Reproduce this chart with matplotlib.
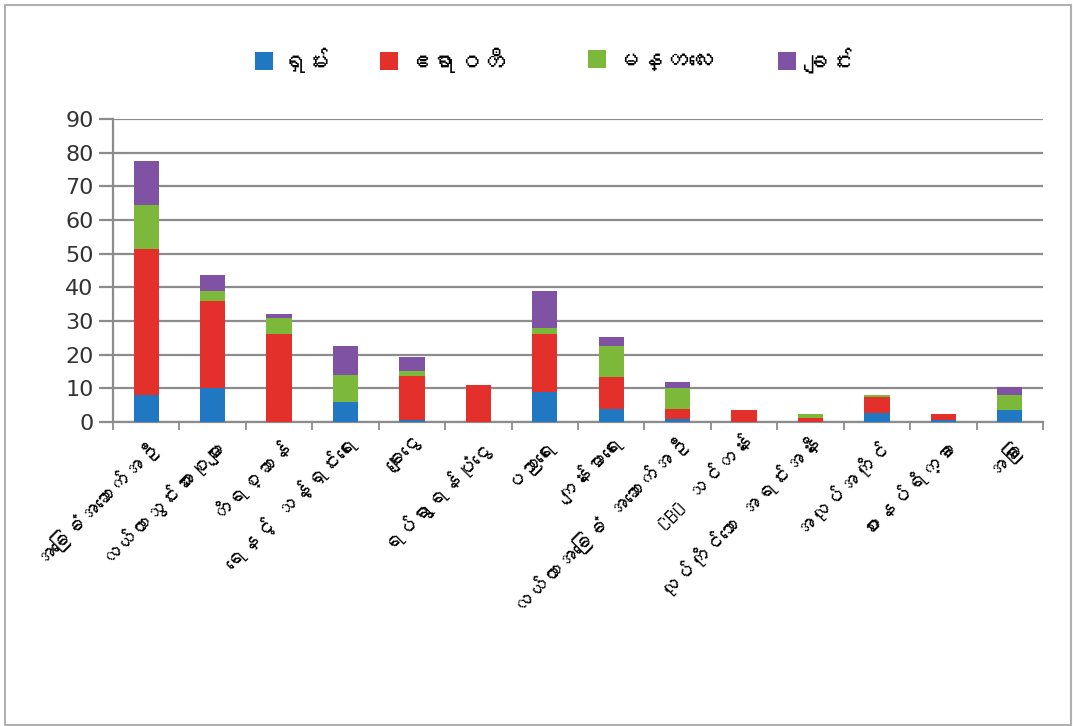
import matplotlib
matplotlib.use("Agg")
import matplotlib.pyplot as plt
import numpy as np
from matplotlib import font_manager
from matplotlib.ft2font import FT2Font
from matplotlib.patches import Rectangle

categories = ["အခြေခံအဆောက်အဦ", "လယ်ယာသွင်းအားစုများ", "တိရစ္ဆာန်",
              "ရေနှင့် သန့်ရှင်းရေး", "ချေးငွေ", "ရပ်ရွာရန်ပုံငွေ", "ပညာရေး",
              "ကျန်းမာရေး", "လယ်ယာအခြေခံ အဆောက်အဦ", "CBO သင်တန်း",
              "လုပ်ကိုင်သော အရင်းအနှီး", "အလုပ်အကိုင်", "စားနပ်ရိက္ခာ", "အခြား"]
series_names = ["ရှမ်း", "ဧရာဝတီ", "မန္တလေး", "ချင်း"]

shan = [8, 10, 0, 6, 0.7, 0, 9, 4, 1, 0, 0, 2.7, 0.7, 3.7]
ayeyarwady = [43.5, 26, 26, 0, 13, 11, 17, 9.5, 3, 3.6, 1.2, 4.6, 1.7, 0]
mandalay = [13, 3, 5, 8, 1.5, 0, 2, 9, 6, 0, 1.2, 0.6, 0, 4.2]
chin = [13, 4.7, 1.2, 8.7, 4, 0, 11, 2.6, 2, 0, 0, 0, 0, 2.5]

yticks = [0, 10, 20, 30, 40, 50, 60, 70, 80, 90]
colors = ["#1f78c1", "#e3302b", "#7cb83a", "#7f52a3"]
legend_x = [255, 380, 588, 778]  # left edge of each legend entry, px


# look for a font that can draw Myanmar script, fall back to DejaVu
def find_myanmar_font():
    for f in font_manager.fontManager.ttflist:
        try:
            if FT2Font(f.fname).get_char_index(0x1000):
                return f.name
        except Exception:
            pass
    return None

mm_font = find_myanmar_font()
families = ([mm_font] if mm_font else []) + ["DejaVu Sans"]
plt.rcParams['font.family'] = families

fig = plt.figure(figsize=(10.73, 7.26), dpi=100)
fig.patches.append(Rectangle((5/1073, 1/726), 1066/1073, 720/726, transform=fig.transFigure,
                             fill=False, edgecolor="#b0b0b0", linewidth=1.5))

ax = fig.add_axes([113/1073, 1 - 422/726, 930/1073, 303/726])

x = np.arange(len(categories))
bottom = np.zeros(len(categories))
handles = []
for name, vals, c in zip(series_names, [shan, ayeyarwady, mandalay, chin], colors):
    vals = np.array(vals)
    h = ax.bar(x, vals, width=0.38, bottom=bottom, color=c, label=name, zorder=3)
    handles.append(h)
    bottom += vals

ax.set_xlim(-0.5, len(categories) - 0.5)
ax.set_ylim(0, 90)
ax.set_yticks(yticks)
ax.set_yticklabels([str(t) for t in yticks], family="DejaVu Sans")
ax.yaxis.grid(True, color="#8c8c8c", linewidth=1.6, zorder=0)
ax.tick_params(axis='y', labelsize=16, labelcolor="#333333", color="#8c8c8c",
               length=10, width=1.6, pad=4)

ax.set_xticks(x)
ax.set_xticklabels(categories, rotation=45, ha='right', rotation_mode='anchor', fontsize=15)
ax.tick_params(axis='x', length=0, pad=8)
ax.set_xticks(np.arange(-0.5, len(categories)), minor=True)
ax.tick_params(axis='x', which='minor', length=6, color="#8c8c8c", width=1.3)

for s in ['top', 'right']:
    ax.spines[s].set_visible(False)
for s in ['left', 'bottom']:
    ax.spines[s].set_color("#8c8c8c")
    ax.spines[s].set_linewidth(1.6)

for h, name, lx in zip(handles, series_names, legend_x):
    fig.legend([h], [name], loc='center left', bbox_to_anchor=(lx/1073, 0.917),
               frameon=False, prop={'size': 18, 'weight': 'bold'},
               handlelength=0.7, handleheight=0.7, handletextpad=0.3,
               borderaxespad=0, borderpad=0)

fig.savefig("out.png", dpi=100)
